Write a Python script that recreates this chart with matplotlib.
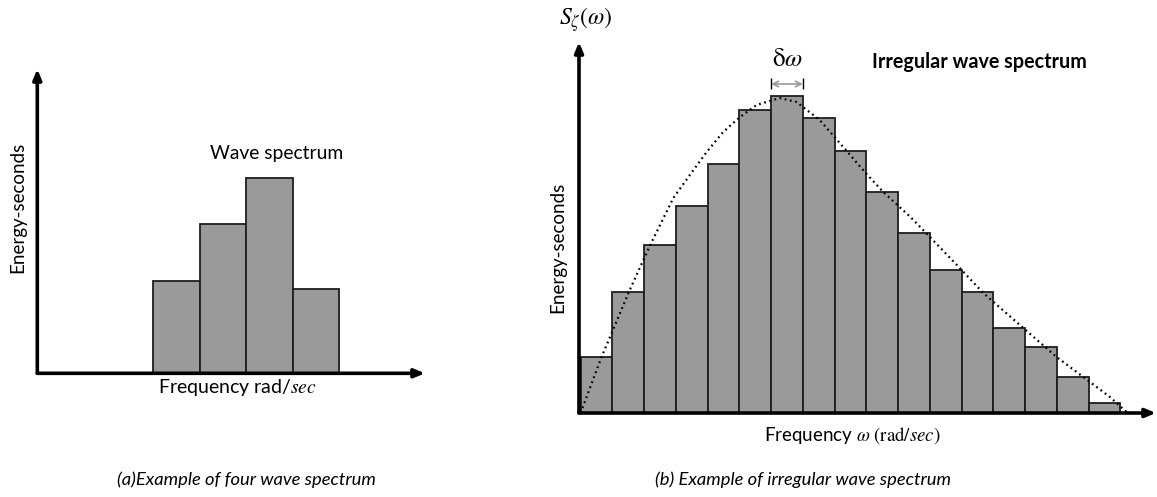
import numpy as np
import matplotlib
matplotlib.use("Agg")
import matplotlib.pyplot as plt

plt.rcParams['font.family'] = ['Lato', 'DejaVu Sans']
plt.rcParams['mathtext.fontset'] = 'stix'

W, H = 1157, 497

# (a) four-band spectrum
four_freq = [3, 4, 5, 6]
four_energy = [9.2, 14.9, 19.5, 8.4]

# (b) irregular spectrum, one bar per delta-omega band
irr_freq = np.arange(17) + 0.5
irr_energy = [5.6, 12.1, 16.8, 20.7, 24.9, 30.3, 31.7, 29.5, 26.2, 22.1,
              18.0, 14.3, 12.1, 8.5, 6.6, 3.6, 1.0]

# continuous spectrum traced over the bars
curve_w = [0.0, 0.66, 0.98, 1.52, 2.02, 2.24, 2.92, 3.44, 3.97, 4.49, 5.02,
           5.54, 6.27, 6.80, 7.53, 8.27, 8.95, 9.53, 10.42, 11.0, 12.0,
           12.68, 13.94, 14.99, 16.04, 16.67, 17.19, 17.3]
curve_s = [0.0, 5.6, 8.0, 12.1, 15.6, 17.1, 21.5, 23.8, 26.1, 28.1, 29.6,
           30.8, 31.5, 31.1, 29.3, 26.6, 24.1, 22.1, 19.5, 17.6, 14.3,
           12.0, 8.5, 5.6, 3.1, 1.6, 0.1, 0.0]

BAR_FC = '#9a9a9a'
BAR_EC = '#1e1e1e'


def px_axes(fig, x0, y0, x1, y1):
    # axes box given in pixels: (x0, y0) is the origin, (x1, y1) the arrow tips
    return fig.add_axes([x0 / W, 1 - y0 / H, (x1 - x0) / W, (y0 - y1) / H])


def draw_arrows(ax):
    kw = dict(arrowstyle='-|>,head_length=0.6,head_width=0.25', lw=2.6,
              color='black', shrinkA=0, shrinkB=0)
    ax.annotate('', xy=(1, 0), xytext=(0, 0), xycoords='axes fraction',
                arrowprops=kw, annotation_clip=False)
    ax.annotate('', xy=(0, 1), xytext=(0, 0), xycoords='axes fraction',
                arrowprops=kw, annotation_clip=False)


def fig_text(fig, x, y, s, **kw):
    fig.text(x / W, 1 - y / H, s, **kw)


fig = plt.figure(figsize=(W / 100, H / 100), dpi=100)

# ---- (a) ----
ax1 = px_axes(fig, 37.3, 373.3, 425, 69)
ax1.bar(four_freq, four_energy, width=1.0, color=BAR_FC, edgecolor=BAR_EC,
        lw=1.3, zorder=2)
ax1.set_xlim(0, 8.35)
ax1.set_ylim(0, 30.4)
ax1.axis('off')
draw_arrows(ax1)

fig_text(fig, 277, 153, 'Wave spectrum', ha='center', va='center', fontsize=13.9)
fig_text(fig, 18, 207, 'Energy-seconds', ha='center', va='center',
         rotation=90, fontsize=13.5)
fig_text(fig, 237, 388, r'Frequency rad/$sec$', ha='center', va='center',
         fontsize=14)

# ---- (b) ----
ax2 = px_axes(fig, 579, 413, 1156, 42)
ax2.bar(irr_freq, irr_energy, width=1.0, color=BAR_FC, edgecolor=BAR_EC,
        lw=1.3, zorder=2)
ax2.plot(curve_w, curve_s, color='black', lw=1.6, ls=(0, (0.8, 1.6)),
         zorder=3)
ax2.set_xlim(-0.05, 18.12)
ax2.set_ylim(0, 37.1)
ax2.axis('off')
draw_arrows(ax2)

# delta-omega marker over the peak band
ax2.annotate('', xy=(7, 32.9), xytext=(6, 32.9),
             arrowprops=dict(arrowstyle='<->', color='#9a9a9a', lw=1.2,
                             shrinkA=0, shrinkB=0))
ax2.vlines([6, 7], 32.4, 33.5, color='black', lw=1.0)
ax2.text(6.5, 34.3, r'$\mathrm{\delta}\omega$', ha='center', va='bottom',
         fontsize=18)

fig_text(fig, 872, 62, 'Irregular wave spectrum', ha='left', va='center',
         fontsize=14.2, fontweight='bold')
fig_text(fig, 586, 20, r'$S_{\zeta}(\omega)$', ha='center', va='center',
         fontsize=17)
fig_text(fig, 558, 247, 'Energy-seconds', ha='center', va='center',
         rotation=90, fontsize=13.5)
fig_text(fig, 852, 436, r'Frequency $\omega$ $(\mathrm{rad}/sec)$',
         ha='center', va='center', fontsize=13.5)

# captions
fig_text(fig, 117, 480, '(a)Example of four wave spectrum', ha='left',
         va='center', fontsize=13.2, style='italic')
fig_text(fig, 655, 480, '(b) Example of irregular wave spectrum', ha='left',
         va='center', fontsize=13.2, style='italic')

fig.savefig('out.png', dpi=100)
